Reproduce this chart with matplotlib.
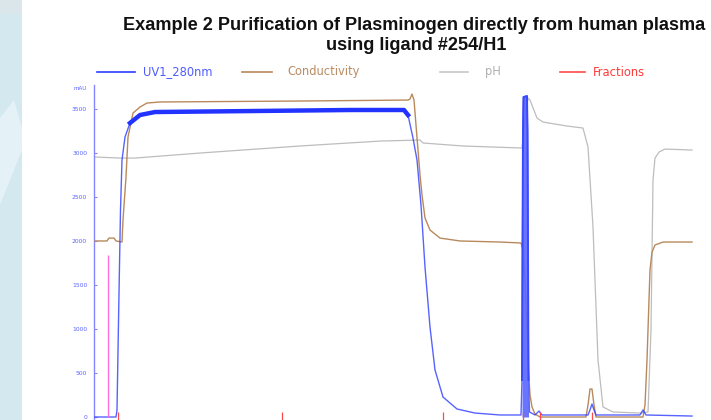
import matplotlib
matplotlib.use('Agg')
import matplotlib.pyplot as plt
import numpy as np
from matplotlib.lines import Line2D
from matplotlib.patches import Rectangle, Polygon

# ---------------- data (volume units, mAU scale) ----------------
uv_x = [0.25, 5.5, 5.75, 6.25, 6.625, 7.0, 7.75, 9.0, 11.5, 15.25, 39.0, 64.0, 77.5,
        78.5, 79.75, 80.75, 81.75, 82.75, 84.0, 85.25, 87.25, 90.75, 95.25, 101.5,
        106.75, 107.0, 107.125, 107.25, 107.375, 108.25, 108.375, 108.5, 108.625, 108.875,
        110.25, 111.25, 112.0, 123.5, 124.0, 124.5, 125.0, 125.5, 136.5, 137.25, 138.0, 149.5]
uv_y = [0, 0, 80, 1409, 2352, 2920, 3181, 3340, 3431, 3465, 3476, 3488, 3488,
        3431, 3169, 2920, 2408, 1704, 1022, 534, 227, 91, 45, 23,
        23, 420, 1897, 3260, 3635, 3647, 3260, 1897, 420, 57,
        23, 68, 23, 23, 80, 148, 80, 23, 23, 80, 23, 11]

cond_x = [0.25, 3.25, 3.75, 5.0, 5.5, 7.0, 7.25, 8.0, 8.5, 9.75, 11.5, 13.25, 16.5, 51.5,
          78.5, 79.0, 79.5, 80.0, 80.5, 81.0, 81.5, 82.0, 82.75, 84.0, 86.5, 91.5, 101.5,
          106.75, 107.25, 107.75, 108.25, 108.625, 109.0, 109.5, 110.25, 111.5, 123.0,
          123.5, 124.0, 124.5, 125.0, 125.5, 137.25, 137.75, 138.25, 138.75, 139.0, 139.5,
          140.25, 142.25, 149.5]
cond_y = [2000, 2000, 2033, 2033, 2000, 1988, 2238, 2726, 3181, 3453, 3522, 3567, 3579, 3590,
          3601, 3613, 3669, 3601, 3317, 3033, 2749, 2522, 2261, 2124, 2033, 2000, 1988,
          1977, 1897, 1556, 988, 534, 250, 114, 34, 0, 0,
          136, 318, 318, 136, 0, 0, 136, 648, 1329, 1670, 1874,
          1954, 1988, 1988]

ph_x = [0.25, 6.5, 10.25, 26.5, 51.5, 71.5, 81.5, 82.25, 92.25, 107.0, 107.75, 108.5, 109.0,
        110.75, 112.25, 118.25, 122.25, 123.5, 124.75, 126.0, 127.25, 129.75, 136.5, 138.5,
        139.25, 139.75, 140.25, 141.25, 142.75, 149.5]
ph_y = [2954, 2942, 2942, 2999, 3079, 3135, 3147, 3113, 3079, 3056, 3374, 3624, 3601,
        3397, 3351, 3306, 3283, 3067, 2158, 648, 114, 57, 45, 57,
        988, 2692, 2942, 3010, 3044, 3033]

inject_x = [3.5]
inject_h = [1840]
frac_x = [6.0, 47.0, 87.25, 107.25, 111.5, 124.5]

y_ticks = [0, 500, 1000, 1500, 2000, 2500, 3000, 3500]
y_ticklabels = ['0', '500', '1000', '1500', '2000', '2500', '3000', '3500']

legend_names = ['UV1_280nm', 'Conductivity', 'pH', 'Fractions']

title_line1 = 'Example 2 Purification of Plasminogen directly from human plasma'
title_line2 = 'using ligand #254/H1'

# ---------------- styles ----------------
c_uv = '#2c3cff'
c_cond = '#b8895c'
c_ph = '#bdbdbd'
c_frac = '#ff4a4a'
c_inject = '#ff70de'
c_axis = '#8585ff'

W, H = 711, 420
fig = plt.figure(figsize=(W / 100, H / 100), dpi=100)
fig.patch.set_facecolor('white')

# left slide background strip
fig.patches.append(Rectangle((0, 0), 22 / W, 1, transform=fig.transFigure,
                             facecolor='#d4e8ef', edgecolor='none', zorder=0))
fig.patches.append(Polygon([(0, 1 - 118 / H), (14 / W, 1 - 100 / H), (22 / W, 1 - 128 / H),
                            (22 / W, 1 - 150 / H), (0, 1 - 205 / H)],
                           closed=True, transform=fig.transFigure,
                           facecolor='#e4f1f6', edgecolor='none', zorder=0))
fig.patches.append(Rectangle((0, 1 - 14 / H), 22 / W, 14 / H, transform=fig.transFigure,
                             facecolor='#dae6ea', edgecolor='none', zorder=0))

ax = fig.add_axes([94 / W, 0, 617 / W, 335 / H])
ax.patch.set_alpha(0)
ax.set_xlim(0, 154.25)
ax.set_ylim(-34, 3772)

ax.plot(ph_x, ph_y, color=c_ph, lw=0.9, zorder=2)
ax.plot(cond_x, cond_y, color=c_cond, lw=1.0, zorder=3)
ux = np.array(uv_x)
uy = np.array(uv_y)
ax.plot(ux, uy, color=c_uv, lw=1.0, alpha=0.8, zorder=4)
m = (ux >= 9.0) & (ux <= 78.5)
ax.plot(ux[m], uy[m], color='#2233ff', lw=3.2, zorder=5)
ms = (ux >= 107.0) & (ux <= 108.625)
ax.fill_between(ux[ms], 0, uy[ms], color='#5a66ff', lw=0, alpha=0.9, zorder=5)
ax.plot(ux[ms], uy[ms], color='#3a48ff', lw=1.4, zorder=5)
ax.vlines(inject_x, 0, inject_h, color=c_inject, lw=1.0, zorder=6)
ax.vlines(frac_x, -34, 60, color=c_frac, lw=0.9, zorder=6)

for s in ['top', 'right', 'bottom']:
    ax.spines[s].set_visible(False)
ax.spines['left'].set_color(c_axis)
ax.spines['left'].set_linewidth(1.0)
ax.set_xticks([])
ax.set_yticks(y_ticks)
ax.set_yticklabels(y_ticklabels)
ax.tick_params(axis='y', direction='in', length=2.5, width=0.8, colors=c_axis,
               labelcolor='#5a62ff', labelsize=4.3, pad=5)

fig.text(87 / W, 1 - 88 / H, 'mAU', ha='right', va='center', fontsize=4.0,
         color='#5a62ff')

# legend
leg_y = 1 - 72 / H
leg_items = [(97, 135, 143, c_uv, '#4d5bff'),
             (242, 272, 287, c_cond, '#b98b62'),
             (440, 468, 485, '#c8c8c8', '#b0b0b0'),
             (560, 585, 593, c_frac, '#ff3a3a')]
for (x0, x1, xt, lc, tc), name in zip(leg_items, legend_names):
    fig.add_artist(Line2D([x0 / W, x1 / W], [leg_y, leg_y], transform=fig.transFigure,
                          color=lc, lw=1.2))
    fig.text(xt / W, leg_y, name, ha='left', va='center', fontsize=8.3, color=tc,
             family='DejaVu Sans')

fig.text(414 / W, 1 - 26 / H, title_line1, ha='center', va='center', fontsize=13.1,
         fontweight='bold', family='Liberation Sans', color='#111111')
fig.text(416 / W, 1 - 46 / H, title_line2, ha='center', va='center', fontsize=13.1,
         fontweight='bold', family='Liberation Sans', color='#111111')

fig.savefig('out.png', dpi=100)
